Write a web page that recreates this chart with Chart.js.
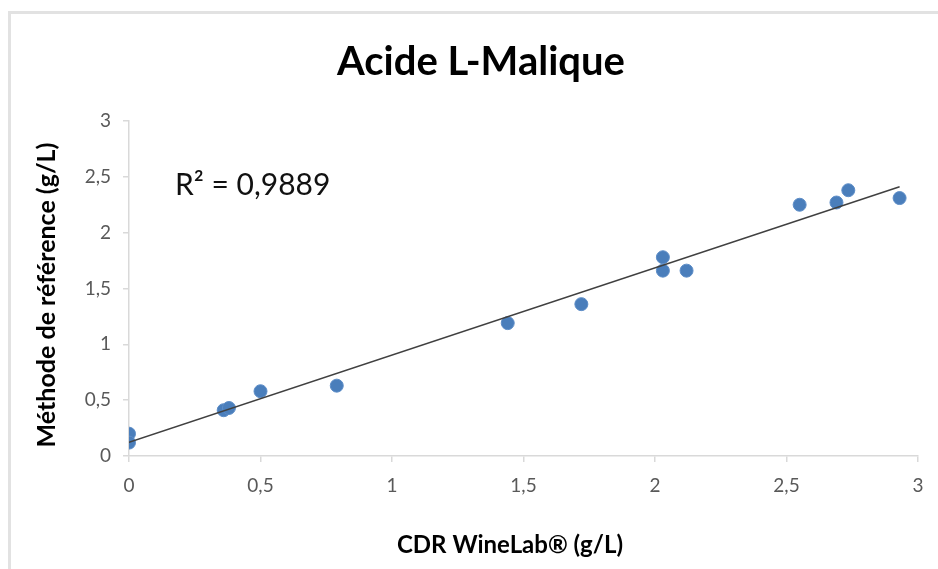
<!DOCTYPE html>
<html>
<head>
<meta charset="utf-8">
<script src="https://cdn.jsdelivr.net/npm/chart.js@4"></script>
<style>
  body { margin: 0; background: #fff; }
  #frame { position: absolute; left: 8px; top: 11px; width: 960px; height: 600px; border: 3px solid #e2e2e2; }
  #wrap { position: absolute; left: 0; top: 0; width: 938px; height: 569px; }
</style>
</head>
<body>
<div id="frame"></div>
<div id="wrap"><canvas id="chart" width="938" height="569"></canvas></div>
<script>
const title = "Acide L-Malique";
const xTitle = "CDR WineLab® (g/L)";
const yTitle = "Méthode de référence (g/L)";
const r2Label = "R² = 0,9889";

// CDR WineLab (x) vs méthode de référence (y), g/L
const winelab = [0, 0, 0.36, 0.38, 0.50, 0.79, 1.44, 1.72, 2.03, 2.03, 2.12, 2.55, 2.69, 2.735, 2.93];
const reference = [0.20, 0.12, 0.41, 0.43, 0.58, 0.63, 1.19, 1.36, 1.78, 1.66, 1.66, 2.25, 2.27, 2.38, 2.31];

const axisMin = 0;
const axisMax = 3;
const axisStep = 0.5;

// linear trend (least squares) from the points
const n = winelab.length;
const mx = winelab.reduce((a, b) => a + b, 0) / n;
const my = reference.reduce((a, b) => a + b, 0) / n;
let sxy = 0, sxx = 0;
for (let i = 0; i < n; i++) {
  sxy += (winelab[i] - mx) * (reference[i] - my);
  sxx += (winelab[i] - mx) * (winelab[i] - mx);
}
const slope = sxy / sxx;
const intercept = my - slope * mx;
const xLo = Math.min(...winelab);
const xHi = Math.max(...winelab);

const points = winelab.map((x, i) => ({ x: x, y: reference[i] }));
const trend = [xLo, xHi].map(x => ({ x: x, y: intercept + slope * x }));

const comma = v => String(v).replace('.', ',');

const textPlugin = {
  id: 'texts',
  afterDraw(chart) {
    const ctx = chart.ctx;
    ctx.save();
    ctx.fillStyle = '#000';
    ctx.textAlign = 'center';
    ctx.textBaseline = 'alphabetic';
    ctx.font = 'bold 40px Lato';
    ctx.fillText(title, 481, 75);

    ctx.font = 'bold 24px Lato';
    ctx.fillText(xTitle, 510, 553);

    ctx.save();
    ctx.translate(47, 295);
    ctx.rotate(-Math.PI / 2);
    ctx.textBaseline = 'middle';
    ctx.font = 'bold 25px Lato';
    ctx.fillText(yTitle, 0, 0);
    ctx.restore();

    ctx.textAlign = 'left';
    ctx.font = '30px Lato';
    ctx.fillStyle = '#111';
    ctx.fillText(r2Label, 175, 195);
    ctx.restore();
  }
};

const axisCommon = {
  type: 'linear',
  min: axisMin,
  max: axisMax,
  ticks: {
    stepSize: axisStep,
    color: '#595959',
    font: { family: 'Lato', size: 19 },
    callback: v => comma(v)
  },
  grid: { drawOnChartArea: false, drawTicks: true, tickLength: 6, color: '#d9d9d9', lineWidth: 1.5 },
  border: { color: '#d9d9d9', width: 1.5 }
};

new Chart(document.getElementById('chart'), {
  type: 'scatter',
  data: {
    datasets: [
      {
        type: 'line',
        data: trend,
        borderColor: '#404040',
        borderWidth: 1.5,
        pointRadius: 0,
        fill: false,
        order: 0
      },
      {
        data: points,
        backgroundColor: '#4a7ebb',
        borderColor: '#5d8dc7',
        borderWidth: 1,
        pointRadius: 6.5,
        order: 1
      }
    ]
  },
  options: {
    responsive: false,
    devicePixelRatio: 1,
    animation: false,
    layout: { padding: { top: 121, right: 20, bottom: 0, left: 0 } },
    plugins: { legend: { display: false }, title: { display: false }, tooltip: { enabled: false } },
    scales: {
      x: Object.assign({}, axisCommon, {
        ticks: Object.assign({}, axisCommon.ticks, { padding: 12, maxRotation: 0 }),
        afterFit: s => { s.height = 113; }
      }),
      y: Object.assign({}, axisCommon, {
        ticks: Object.assign({}, axisCommon.ticks, { padding: 12 }),
        afterFit: s => { s.width = 129; }
      })
    }
  },
  plugins: [textPlugin]
});
</script>
</body>
</html>
